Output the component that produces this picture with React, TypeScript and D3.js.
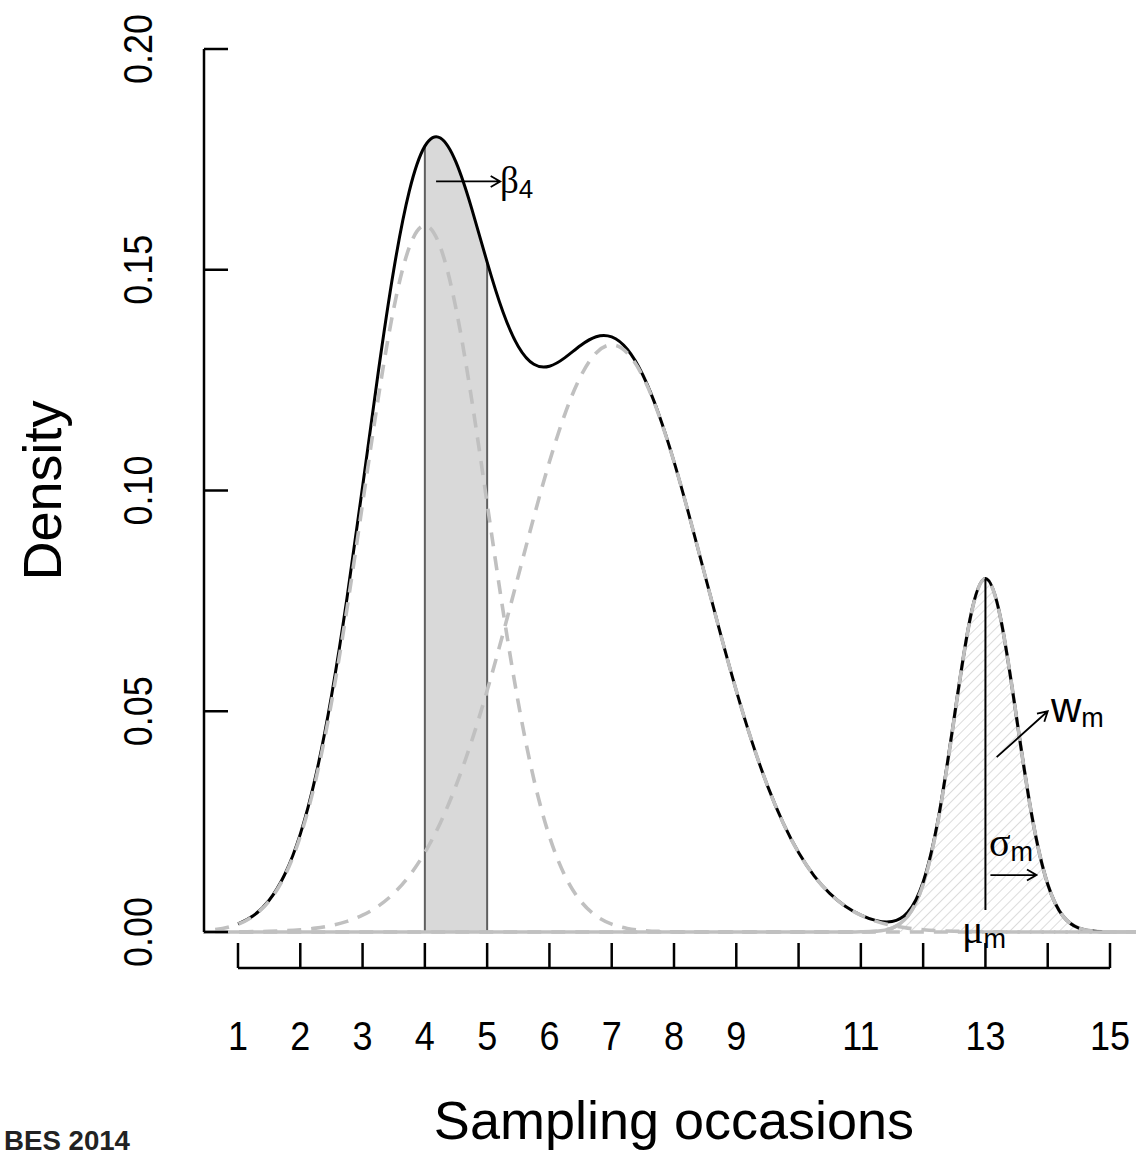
import React from "react";
import * as d3 from "d3";

// ---- data ----
const occasionGrid = [
  0.25, 0.5, 0.75, 1, 1.25, 1.5, 1.75, 2, 2.25, 2.5, 2.75, 3, 3.25, 3.5, 3.75, 4,
  4.25, 4.5, 4.75, 5, 5.25, 5.5, 5.75, 6, 6.25, 6.5, 6.75, 7, 7.25, 7.5, 7.75, 8,
  8.25, 8.5, 8.75, 9, 9.25, 9.5, 9.75, 10, 10.25, 10.5, 10.75, 11, 11.25, 11.5, 11.75, 12,
  12.25, 12.5, 12.75, 13, 13.25, 13.5, 13.75, 14, 14.25, 14.5, 14.75, 15, 15.25, 15.5, 15.75,
];

const earlyComponent = [
  0.00014, 0.00035, 0.00081, 0.00178, 0.00365, 0.00703, 0.01273, 0.02165, 0.0346, 0.05194, 0.07325, 0.09704, 0.12077, 0.1412, 0.15508, 0.16,
  0.15508, 0.1412, 0.12077, 0.09704, 0.07325, 0.05194, 0.0346, 0.02165, 0.01273, 0.00703, 0.00365, 0.00178, 0.00081, 0.00035, 0.00014, 0.00005,
  0, 0, 0, 0, 0, 0, 0, 0, 0, 0, 0, 0, 0, 0, 0, 0,
  0, 0, 0, 0, 0, 0, 0, 0, 0, 0, 0, 0, 0, 0, 0,
];

const middleComponent = [
  0.00001, 0.00001, 0.00002, 0.00004, 0.00009, 0.00016, 0.00029, 0.00051, 0.00088, 0.00148, 0.0024, 0.0038, 0.00584, 0.00874, 0.01272, 0.018,
  0.02477, 0.03316, 0.04318, 0.05468, 0.06734, 0.08067, 0.09398, 0.1065, 0.11737, 0.12581, 0.13117, 0.133, 0.13117, 0.12581, 0.11737, 0.1065,
  0.09398, 0.08067, 0.06734, 0.05468, 0.04318, 0.03316, 0.02477, 0.018, 0.01272, 0.00874, 0.00584, 0.0038, 0.0024, 0.00148, 0.00088, 0.00051,
  0.00029, 0.00016, 0.00009, 0.00004, 0.00002, 0.00001, 0.00001, 0, 0, 0, 0, 0, 0, 0, 0,
];

const lateComponent = [
  0, 0, 0, 0, 0, 0, 0, 0, 0, 0, 0, 0, 0, 0, 0, 0,
  0, 0, 0, 0, 0, 0, 0, 0, 0, 0, 0, 0, 0, 0, 0, 0,
  0, 0, 0, 0, 0, 0, 0, 0, 0, 0, 0, 0.00003, 0.00017, 0.00089, 0.00352, 0.01083,
  0.02597, 0.04852, 0.0706, 0.08, 0.0706, 0.04852, 0.02597, 0.01083, 0.00352, 0.00089, 0.00017, 0.00003, 0, 0, 0,
];

const xTickValues = [1, 2, 3, 4, 5, 6, 7, 8, 9, 10, 11, 12, 13, 14, 15];
const xTickLabels = ["1", "2", "3", "4", "5", "6", "7", "8", "9", "", "11", "", "13", "", "15"];
const yTickValues = [0, 0.05, 0.1, 0.15, 0.2];
const yTickLabels = ["0.00", "0.05", "0.10", "0.15", "0.20"];

const shadedInterval = [4, 5];
const totalRange = [1, 15];
const meanOccasion = 13;
const meanLineRange = [0.005, 0.08];
const betaArrow = [4.18, 0.17, 5.21, 0.17];
const weightArrow = [13.18, 0.0396, 14.0, 0.05];
const sigmaArrow = [13.08, 0.0129, 13.82, 0.0129];

// ---- layout ----
const W = 1136;
const H = 1156;
const GREY = "#c0c0c0";
const SANS = "'Liberation Sans', Arial, Helvetica, sans-serif";
const SERIF = "'Liberation Serif', 'Times New Roman', serif";

function arrowPath(x1: number, y1: number, x2: number, y2: number, len = 11, ang = Math.PI / 6) {
  const a = Math.atan2(y2 - y1, x2 - x1);
  const h1x = x2 - len * Math.cos(a - ang);
  const h1y = y2 - len * Math.sin(a - ang);
  const h2x = x2 - len * Math.cos(a + ang);
  const h2y = y2 - len * Math.sin(a + ang);
  return `M${x1},${y1}L${x2},${y2}M${h1x},${h1y}L${x2},${y2}L${h2x},${h2y}`;
}

export default function App() {
  const x = d3.scaleLinear().domain([1, 15]).range([238, 1110]);
  const y = d3.scaleLinear().domain([0, 0.2]).range([932, 49]);

  const comp1 = occasionGrid.map((g, i) => [g, earlyComponent[i]] as [number, number]);
  const comp2 = occasionGrid.map((g, i) => [g, middleComponent[i]] as [number, number]);
  const comp3 = occasionGrid.map((g, i) => [g, lateComponent[i]] as [number, number]);
  const total = occasionGrid
    .map((g, i) => [g, earlyComponent[i] + middleComponent[i] + lateComponent[i]] as [number, number])
    .filter((d) => d[0] >= totalRange[0] && d[0] <= totalRange[1]);

  const line = d3
    .line<[number, number]>()
    .x((d) => x(d[0]))
    .y((d) => y(d[1]))
    .curve(d3.curveNatural);
  const area = d3
    .area<[number, number]>()
    .x((d) => x(d[0]))
    .y0(y(0))
    .y1((d) => y(d[1]))
    .curve(d3.curveNatural);

  const totalAt = (v: number) => {
    const d = total.find((p) => Math.abs(p[0] - v) < 1e-9);
    return d ? d[1] : 0;
  };

  const plotLeft = 203;
  const axisY = 968;

  return (
    <svg
      width={W}
      height={H}
      viewBox={`0 0 ${W} ${H}`}
      style={{ position: "absolute", left: 0, top: 0, background: "#fff" }}
    >
      <defs>
        <clipPath id="plotClip">
          <rect x={plotLeft} y={30} width={W - plotLeft} height={920} />
        </clipPath>
        <clipPath id="shadeClip">
          <rect x={x(shadedInterval[0])} y={30} width={x(shadedInterval[1]) - x(shadedInterval[0])} height={920} />
        </clipPath>
        <pattern id="hatch" width={7} height={7} patternUnits="userSpaceOnUse" patternTransform="rotate(45)">
          <line x1={0} y1={0} x2={0} y2={7} stroke="#c4c4c4" strokeWidth={1.2} />
        </pattern>
      </defs>

      <rect x={0} y={0} width={W} height={H} fill="#fff" />

      <g clipPath="url(#plotClip)">
        {/* shaded beta_4 interval */}
        <path d={area(total) || ""} fill="#d9d9d9" clipPath="url(#shadeClip)" />
        {shadedInterval.map((v) => (
          <line key={v} x1={x(v)} x2={x(v)} y1={y(0)} y2={y(totalAt(v))} stroke="#5f5f5f" strokeWidth={2} />
        ))}

        {/* hatched last component */}
        <path d={area(comp3) || ""} fill="url(#hatch)" />
        <path d={line(comp3) || ""} fill="none" stroke={GREY} strokeWidth={3.5} />

        {/* total density */}
        <path d={line(total) || ""} fill="none" stroke="#000" strokeWidth={3} />

        {/* dashed components */}
        {[comp1, comp2, comp3].map((c, i) => (
          <path
            key={i}
            d={line(c) || ""}
            fill="none"
            stroke={GREY}
            strokeWidth={3.6}
            strokeDasharray="14 10"
          />
        ))}
      </g>

      {/* mean line */}
      <line
        x1={x(meanOccasion)}
        x2={x(meanOccasion)}
        y1={y(meanLineRange[0])}
        y2={y(meanLineRange[1])}
        stroke="#000"
        strokeWidth={2}
      />

      {/* arrows */}
      {[betaArrow, weightArrow, sigmaArrow].map((a, i) => (
        <path
          key={i}
          d={arrowPath(x(a[0]), y(a[1]), x(a[2]), y(a[3]))}
          fill="none"
          stroke="#000"
          strokeWidth={1.8}
        />
      ))}

      {/* annotation labels */}
      <text x={500} y={193} fontFamily={SERIF} fontSize={37} fill="#000">
        β
        <tspan fontFamily={SANS} fontSize={26} dy={5}>4</tspan>
      </text>
      <text x={1051} y={722} fontFamily={SANS} fontSize={42} fill="#000">
        w
        <tspan fontSize={27} dy={5}>m</tspan>
      </text>
      <text x={989} y={856} fontFamily={SERIF} fontSize={40} fill="#000">
        σ
        <tspan fontFamily={SANS} fontSize={27} dy={5}>m</tspan>
      </text>
      <text x={962} y={943} fontFamily={SERIF} fontSize={40} fill="#000">
        μ
        <tspan fontFamily={SANS} fontSize={27} dy={5}>m</tspan>
      </text>

      {/* y axis */}
      <line x1={204} x2={204} y1={y(0)} y2={y(0.2)} stroke="#000" strokeWidth={2.5} />
      {yTickValues.map((v, i) => (
        <g key={v}>
          <line x1={204} x2={228} y1={y(v)} y2={y(v)} stroke="#000" strokeWidth={2.5} />
          <text
            transform={`translate(152,${y(v)}) rotate(-90) scale(0.9,1)`}
            textAnchor="middle"
            fontFamily={SANS}
            fontSize={40}
            fill="#000"
          >
            {yTickLabels[i]}
          </text>
        </g>
      ))}

      {/* x axis */}
      <line x1={x(1)} x2={x(15)} y1={axisY} y2={axisY} stroke="#000" strokeWidth={2.5} />
      {xTickValues.map((v, i) => (
        <g key={v}>
          <line x1={x(v)} x2={x(v)} y1={axisY} y2={axisY - 25} stroke="#000" strokeWidth={2.5} />
          <text
            transform={`translate(${x(v)},1050) scale(0.9,1)`}
            textAnchor="middle"
            fontFamily={SANS}
            fontSize={40}
            fill="#000"
          >
            {xTickLabels[i]}
          </text>
        </g>
      ))}

      {/* titles */}
      <text x={674} y={1139} textAnchor="middle" fontFamily={SANS} fontSize={54} fill="#000">
        Sampling occasions
      </text>
      <text
        transform={`translate(61,${(y(0) + y(0.2)) / 2}) rotate(-90)`}
        textAnchor="middle"
        fontFamily={SANS}
        fontSize={54}
        fill="#000"
      >
        Density
      </text>
      <text x={4} y={1150} fontFamily={SANS} fontSize={27} fontWeight="bold" fill="#222" textLength={126} lengthAdjust="spacingAndGlyphs">
        BES 2014
      </text>
    </svg>
  );
}
